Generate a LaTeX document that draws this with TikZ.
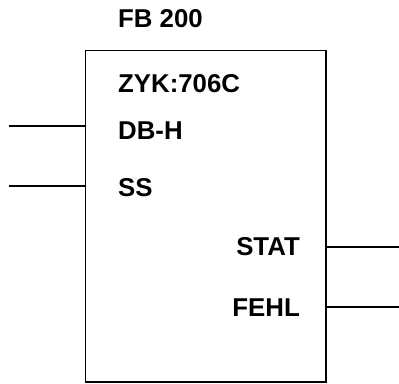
\documentclass[tikz,border=0pt]{standalone}
\usepackage{fontspec}
\setmainfont{Liberation Sans}
\usetikzlibrary{positioning}

\begin{document}
\begin{tikzpicture}[x=1pt, y=-1pt,
    every node/.style={font=\fontsize{25.8}{30}\selectfont\bfseries, inner sep=0pt},
    blockbox/.style={draw, line width=1.4pt, minimum width=240.5pt, minimum height=331.5pt},
    pinline/.style={line width=1.3pt},
    inlabel/.style={anchor=base west},
    outlabel/.style={anchor=base east}
  ]
    \useasboundingbox (0,0) rectangle (399,383);
    % Function block
    \node[blockbox] (fb) at (205.75,216.25) {};
    \node[anchor=base west] (title) at (118,27) {FB 200};
    \node[inlabel] (zyk) at (118,92) {ZYK:706C};
    \node[inlabel] (dbh) at (118,139) {DB-H};
    \node[inlabel] (ss) at (118,196) {SS};
    \node[outlabel] (stat) at (300,255) {STAT};
    \node[outlabel] (fehl) at (300,316) {FEHL};
    % Free pin ends
    \coordinate (dbhin) at (9,126);
    \coordinate (ssin) at (9,186);
    \coordinate (statout) at (399,247);
    \coordinate (fehlout) at (399,307);
    % Pins
    \draw[pinline] (dbhin) -- (dbhin -| fb.west);
    \draw[pinline] (ssin) -- (ssin -| fb.west);
    \draw[pinline] (statout -| fb.east) -- (statout);
    \draw[pinline] (fehlout -| fb.east) -- (fehlout);
  \end{tikzpicture}
\end{document}
